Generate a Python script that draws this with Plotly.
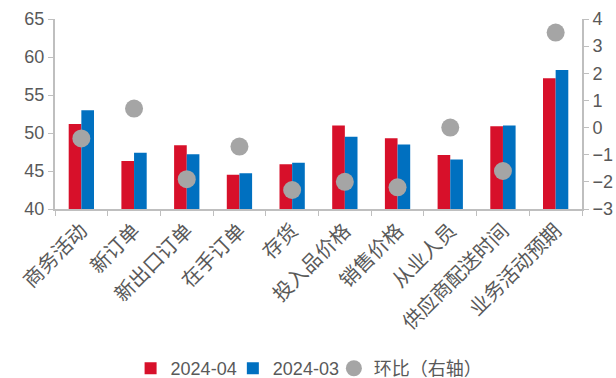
import plotly.graph_objects as go

categories = ["商务活动", "新订单", "新出口订单", "在手订单", "存货", "投入品价格",
              "销售价格", "从业人员", "供应商配送时间", "业务活动预期"]
apr_2024 = [51.2, 46.3, 48.4, 44.5, 45.9, 51.0, 49.3, 47.1, 50.9, 57.2]
mar_2024 = [53.0, 47.4, 47.2, 44.7, 46.1, 49.5, 48.5, 46.5, 51.0, 58.3]
mom_change = [-0.4, 0.7, -1.9, -0.7, -2.3, -2.0, -2.2, 0.0, -1.6, 3.5]

FONT = "Liberation Sans, Arial, Noto Sans CJK SC"
GREY_TXT = "#595959"
AXIS = "#bfbfbf"

fig = go.Figure()
fig.add_trace(go.Bar(x=categories, y=apr_2024, name="2024-04", legend="legend",
                     marker=dict(color="#d7102a", line=dict(width=0))))
fig.add_trace(go.Bar(x=categories, y=mar_2024, name="2024-03", legend="legend2",
                     marker=dict(color="#0070c0", line=dict(width=0))))
fig.add_trace(go.Scatter(x=categories, y=mom_change, name="环比（右轴）", mode="markers",
                         yaxis="y2", legend="legend3",
                         marker=dict(color="#a5a5a5", size=18)))

def leg(x):
    return dict(orientation="h", xref="container", yref="container",
                x=x, xanchor="left", y=0.025, yanchor="middle",
                font=dict(size=18, color=GREY_TXT), itemwidth=30,
                bgcolor="rgba(0,0,0,0)")

fig.update_layout(
    width=616, height=378,
    margin=dict(l=55, r=34, t=19, b=169),
    plot_bgcolor="white", paper_bgcolor="white",
    barmode="group", bargap=0.52, bargroupgap=0,
    font=dict(family=FONT, color=GREY_TXT, size=17),
    showlegend=True,
    legend=leg(0.212),
    legend2=leg(0.378),
    legend3=leg(0.542),
    xaxis=dict(type="category", range=[-0.5, len(categories) - 0.5], tickangle=-45,
               tickson="boundaries", ticks="outside",
               ticklen=5, tickcolor=AXIS, showline=True, linecolor=AXIS, linewidth=2,
               showgrid=False, automargin=False,
               tickfont=dict(size=20, color=GREY_TXT, family="Noto Sans CJK SC")),
    yaxis=dict(range=[40, 65], dtick=5, ticks="outside", ticklen=5, tickcolor=AXIS,
               showline=True, linecolor=AXIS, linewidth=2, showgrid=False, zeroline=False,
               automargin=False, tickfont=dict(size=18, color=GREY_TXT)),
    yaxis2=dict(range=[-3, 4], dtick=1, overlaying="y", side="right", ticks="outside",
                ticklen=5, tickcolor=AXIS, showline=True, linecolor=AXIS, linewidth=2,
                showgrid=False, zeroline=False, automargin=False,
                tickfont=dict(size=18, color=GREY_TXT)),
)

fig.write_html("out.html")
